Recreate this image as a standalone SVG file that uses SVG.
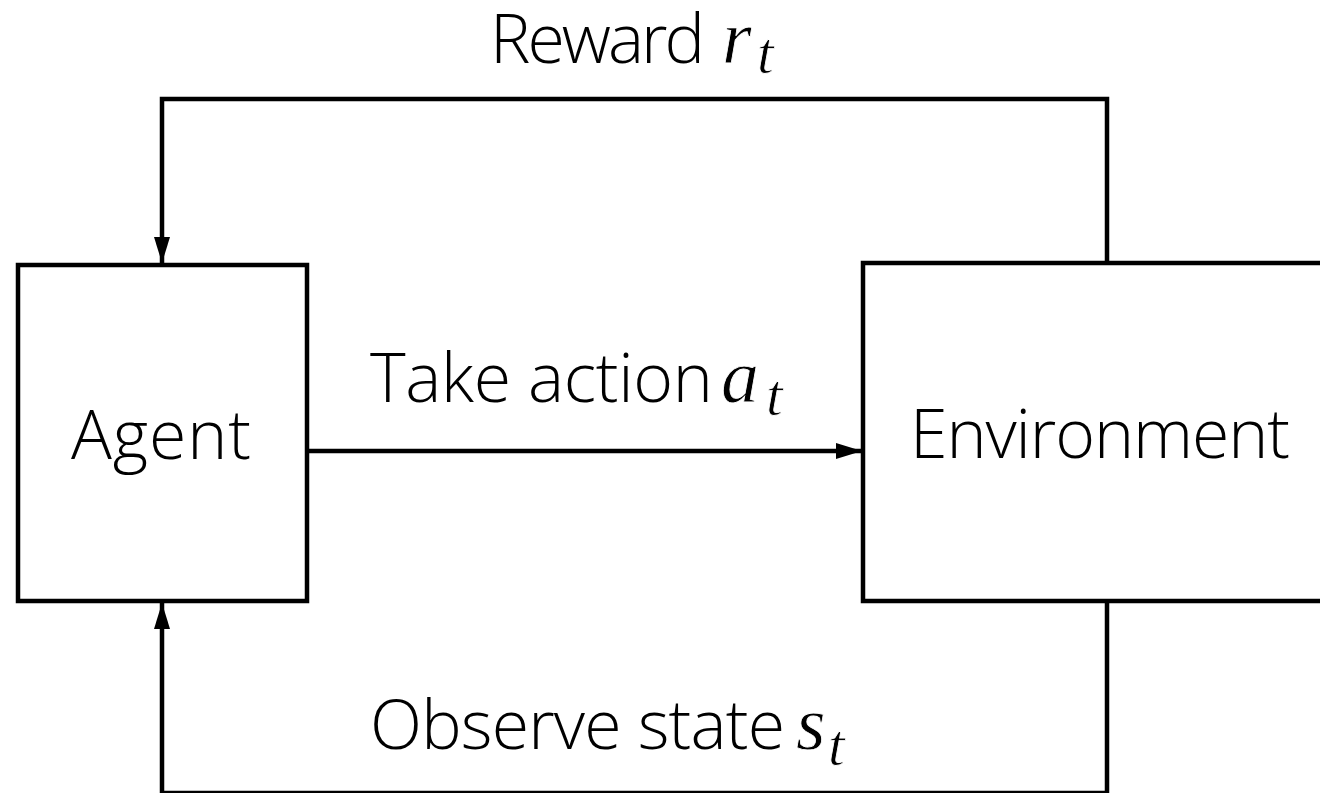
<svg xmlns="http://www.w3.org/2000/svg" width="1320" height="793" viewBox="0 0 1320 793">
  <style>
    .box { fill: #ffffff; stroke: #000000; stroke-width: 4.5; }
    .wire { fill: none; stroke: #000000; stroke-width: 4.5; }
    .label { font-family: "Open Sans", "Noto Sans", "Liberation Sans", sans-serif; font-weight: 300; font-size: 68px; fill: #000000; }
    .math, .sub { font-family: "Liberation Serif", serif; font-style: italic; font-weight: 400; fill: #000000; stroke: #ffffff; stroke-width: 0.8px; }
    .math { font-size: 76px; }
    .sub { font-size: 60px; }
  </style>
  <defs>
    <marker id="arrow" markerUnits="userSpaceOnUse" markerWidth="28" markerHeight="18" refX="26" refY="8" orient="auto">
      <path d="M0,0 L26,8 L0,16 Z" fill="#000000"/>
    </marker>
  </defs>
  <rect width="1320" height="793" fill="#ffffff"/>

  <!-- connectors -->
  <g id="connectors">
    <!-- reward loop: environment top -> agent top -->
    <path class="wire" d="M1107,263 L1107,99 L162,99 L162,263" marker-end="url(#arrow)"/>
    <!-- action: agent -> environment -->
    <path class="wire" d="M307,451 L862,451" marker-end="url(#arrow)"/>
    <!-- state loop: environment bottom -> agent bottom -->
    <path class="wire" d="M1107,601 L1107,793 L162,793 L162,603" marker-end="url(#arrow)"/>
  </g>

  <g id="agent">
    <rect class="box" x="18" y="265" width="289" height="336"/>
    <text class="label" x="71" y="459" textLength="180" lengthAdjust="spacing">Agent</text>
  </g>

  <g id="environment">
    <rect class="box" x="863" y="263" width="480" height="338"/>
    <text class="label" x="910" y="458" textLength="380" lengthAdjust="spacing">Environment</text>
  </g>

  <g id="reward-label">
    <text class="label" x="490" y="63" textLength="215" lengthAdjust="spacing">Reward</text>
    <text class="math" x="722" y="63">r</text>
    <text class="sub" x="757" y="73">t</text>
  </g>

  <g id="action-label">
    <text class="label" x="370" y="402" textLength="343" lengthAdjust="spacing">Take action</text>
    <text class="math" x="721" y="402">a</text>
    <text class="sub" x="766" y="415">t</text>
  </g>

  <g id="state-label">
    <text class="label" x="370" y="749" textLength="415" lengthAdjust="spacing">Observe state</text>
    <text class="math" x="796" y="749">s</text>
    <text class="sub" x="828" y="765">t</text>
  </g>
</svg>
